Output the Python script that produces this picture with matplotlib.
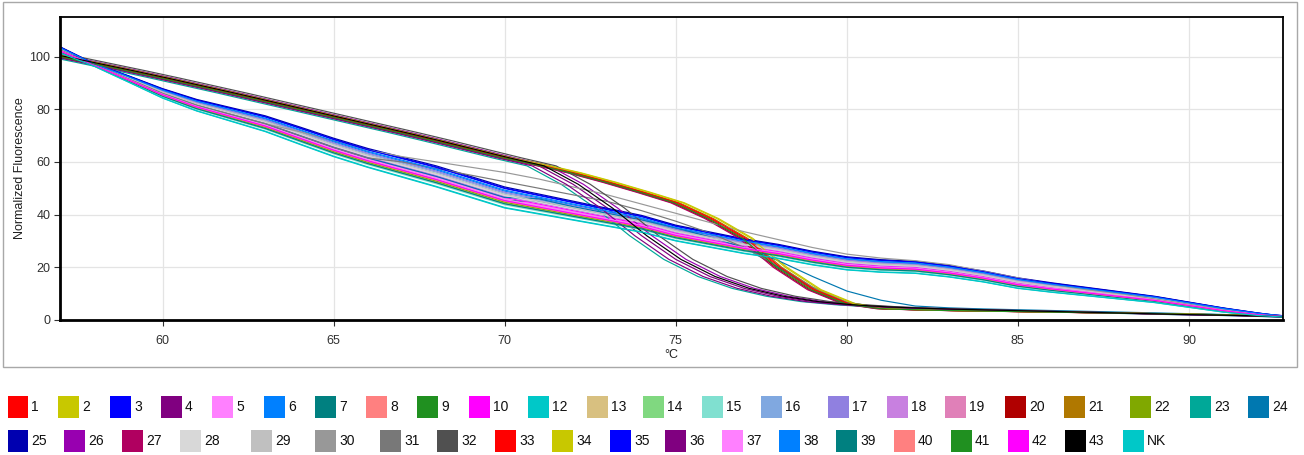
import matplotlib
matplotlib.use("Agg")
import matplotlib.pyplot as plt
from matplotlib.patches import Rectangle
import numpy as np

# ---------------- data ----------------
labels = ['1', '2', '3', '4', '5', '6', '7', '8', '9', '10', '12', '13', '14', '15', '16',
          '17', '18', '19', '20', '21', '22', '23', '24', '25', '26', '27', '28', '29', '30',
          '31', '32', '33', '34', '35', '36', '37', '38', '39', '40', '41', '42', '43', 'NK']
colors = ['#FF0000', '#C8C800', '#0000FF', '#800080', '#FF80FF', '#0080FF', '#008080', '#FF8080',
          '#209020', '#FF00FF', '#00C8C8', '#D8C080', '#80D880', '#80E0D0', '#80A8E0', '#9080E0',
          '#C880E0', '#E080B8', '#B00000', '#B07800', '#80A800', '#00A898', '#0078B0', '#0000B0',
          '#9800B0', '#B00060', '#D8D8D8', '#C0C0C0', '#989898', '#787878', '#505050', '#FF0000',
          '#C8C800', '#0000FF', '#800080', '#FF80FF', '#0080FF', '#008080', '#FF8080', '#209020',
          '#FF00FF', '#000000', '#00C8C8']

temps = [56.5, 57, 58, 59, 60, 61, 62, 63, 64, 65, 66, 67, 68, 69, 70,
         71, 72, 73, 74, 75, 76, 77, 78, 79, 80, 81, 82, 83, 84, 85, 86, 87, 88, 89, 90, 91, 92,
         92.5, 93]

# high-start bundle (56.5 .. 70)
high_start = [101.3, 100, 97.3, 94.6, 91.8, 88.9, 86.0, 83.0, 80.0, 77.0, 74.0, 71.0, 67.9, 64.7, 61.5]
# tails 71 .. 93
early_tail = [58.5, 51.5, 42.5, 32, 23, 16.5, 12, 9, 7, 5.8, 5.0, 4.5, 4.1, 3.8, 3.5, 3.2, 2.9,
              2.6, 2.3, 2.0, 1.8, 1.5, 1.3, 1.1]
late_tail = [58.8, 55.8, 52.3, 48.5, 44.5, 38.5, 31, 20, 11.5, 6.2, 4.3, 3.9, 3.6, 3.4, 3.2, 3.0,
             2.8, 2.6, 2.4, 2.2, 1.9, 1.6, 1.4, 1.2]

# low bundle centre and half width (56.5 .. 93)
low_center = [105, 102.5, 96.8, 91.5, 86, 81.5, 78, 74.5, 70, 65.5, 61.5, 58, 54.5, 50.5, 46.5,
              44, 41.5, 39, 36.5, 33, 30.5, 28, 26, 23.5, 21.5, 20.5, 20, 18.5, 16.5, 14, 12.3,
              10.8, 9.3, 7.8, 5.8, 3.8, 2.2, 1.6, 1.2]
low_spread = [1.5, 1.2, 0.5, 1.2, 1.8, 2.2, 2.6, 3.0, 3.3, 3.5, 3.6, 3.8, 4.0, 4.0, 4.0, 3.8, 3.6,
              3.4, 3.2, 3.0, 2.9, 2.8, 2.7, 2.6, 2.5, 2.4, 2.3, 2.2, 2.1, 2.0, 1.8, 1.6, 1.4, 1.2,
              1.0, 0.8, 0.5, 0.3, 0.2]

# special single curves (values from 64 .. 93 for upper, 67 .. 93 for mid, 71 .. 93 for others)
upper_tail = [71.5, 68, 64.5, 62, 60, 58, 56, 53.5, 50.5, 47.5, 44, 40.5, 37, 33.5, 30.5, 27.5, 25,
              23.5, 22.5, 21, 18.5, 16, 13.5, 11.5, 10, 8, 6, 4, 2.3, 1.7, 1.3]
mid_tail = [60, 57.5, 55, 52.5, 50, 47.5, 45, 41.5, 37.5, 33, 27.5, 20.5, 12.5, 6.8, 4.6, 4.1, 3.8,
            3.5, 3.3, 3.1, 2.9, 2.7, 2.5, 2.3, 2.0, 1.7, 1.5, 1.2]
teal_tail = [46, 43, 40.5, 38, 35, 31.5, 27.5, 22.5, 16.5, 11, 7.5, 5.3, 4.6, 4.2, 3.9, 3.6, 3.3,
             3.0, 2.7, 2.4, 2.1, 1.7, 1.5, 1.2]
lowlate_tail = [45, 42.5, 40, 37.5, 34.5, 31.5, 27.5, 20, 12, 6.5, 4.5, 4.0, 3.7, 3.5, 3.3, 3.1,
                2.9, 2.7, 2.5, 2.3, 2.0, 1.7, 1.5, 1.2]

# per-sample curve family, position in bundle and temperature offset
family = {'1': 'late', '2': 'late', '20': 'late', '21': 'late', '33': 'late', '34': 'late',
          '27': 'late', '41': 'late',
          '4': 'early', '26': 'early', '36': 'early', '43': 'early', '32': 'early', '23': 'early',
          '30': 'upper', '31': 'mid', '24': 'teal', '7': 'lowlate'}
position = {'3': 0.9, '25': 1.0, '35': 0.85, '6': 0.6, '38': 0.7, '16': 0.4, '17': 0.5,
            '5': -0.1, '37': -0.2, '10': 0.0, '42': -0.3, '18': 0.1, '19': -0.2, '8': -0.4,
            '40': -0.35, '13': -0.5, '14': -0.6, '9': -0.55, '22': -0.45, '15': -0.7, '28': 0.2,
            '29': 0.3, '39': -0.6, '12': -1.0, 'NK': -0.95, '7': -0.3}
dtemp = {'1': 0.0, '2': 0.25, '20': -0.1, '21': 0.1, '33': 0.05, '34': 0.2, '27': -0.15,
         '41': -0.05, '4': 0.0, '26': 0.3, '36': -0.2, '43': 0.15, '32': 0.5, '23': -0.35}

# ---------------- figure ----------------
W, H = 1304, 455
plt.rcParams['font.family'] = ['Liberation Sans', 'DejaVu Sans']
fig = plt.figure(figsize=(W / 100, H / 100), dpi=100)
fig.patch.set_facecolor('white')
ax = fig.add_axes([60 / W, 1 - 320 / H, (1283 - 60) / W, (320 - 17) / H])

t = np.array(temps)
lc = np.array(low_center)
ls = np.array(low_spread)
i64 = temps.index(64)
i67 = temps.index(67)
i71 = temps.index(71)

for lab, col in zip(labels, colors):
    fam = family.get(lab, 'low')
    if fam in ('early', 'late'):
        tail = early_tail if fam == 'early' else late_tail
        y = np.array(high_start + tail)
        x = t + dtemp.get(lab, 0.0)
    else:
        x = t
        k = position.get(lab, 0.0)
        base = lc + k * ls
        if fam == 'low':
            y = base
        elif fam == 'upper':
            y = np.concatenate([base[:i64], upper_tail])
        elif fam == 'mid':
            y = np.concatenate([base[:i67], mid_tail])
        elif fam == 'teal':
            y = np.concatenate([base[:i71], teal_tail])
        else:
            y = np.concatenate([base[:i71], lowlate_tail])
    ax.plot(x, y, color=col, lw=0.85, solid_joinstyle='round')

ax.set_xlim(57, 92.75)
ax.set_ylim(0, 115)
ax.set_xticks([60, 65, 70, 75, 80, 85, 90])
ax.set_yticks([0, 20, 40, 60, 80, 100])
ax.grid(True, color='#e4e4e4', lw=0.9)
ax.set_axisbelow(True)
for side in ['left', 'bottom']:
    ax.spines[side].set_linewidth(2.0)
for side in ['top', 'right']:
    ax.spines[side].set_linewidth(1.3)
ax.tick_params(axis='both', labelsize=9, colors='#303030', length=4, width=0.8, pad=3)
ax.tick_params(axis='x', pad=7)
ax.set_ylabel('Normalized Fluorescence', fontsize=9, color='#202020', labelpad=2)
ax.set_xlabel('°C', fontsize=9, color='#202020', labelpad=1)

# outer frame
fig.add_artist(Rectangle((3 / W, 1 - 367 / H), (1297 - 3) / W, (367 - 2) / H,
                         transform=fig.transFigure, fill=False, ec='#a8a8a8', lw=1.0))

# legend (manual, two rows)
row1_x = [7.5, 58, 110, 161, 212, 264, 315, 366, 417, 469, 528, 587, 643, 702, 761, 828, 887,
          945, 1005, 1064, 1130, 1190, 1248]
row2_x = [7.5, 64, 122, 180, 251, 315, 380, 437, 495, 552, 610, 665, 722, 779, 836, 894, 951,
          1008, 1065, 1123]
row_y = [396, 430]
sq_w, sq_h = 21, 22
xs = row1_x + row2_x
ys = [row_y[0]] * len(row1_x) + [row_y[1]] * len(row2_x)
for lab, col, px, py in zip(labels, colors, xs, ys):
    fig.add_artist(Rectangle((px / W, 1 - (py + sq_h) / H), sq_w / W, sq_h / H,
                             transform=fig.transFigure, fc=col, ec='none'))
    fig.text((px + sq_w + 3) / W, 1 - (py + sq_h / 2) / H, lab, fontsize=10,
             family=['Liberation Sans Narrow', 'Liberation Sans', 'DejaVu Sans'],
             color='#101010', va='center', ha='left')

fig.savefig('out.png', dpi=100, facecolor='white')
